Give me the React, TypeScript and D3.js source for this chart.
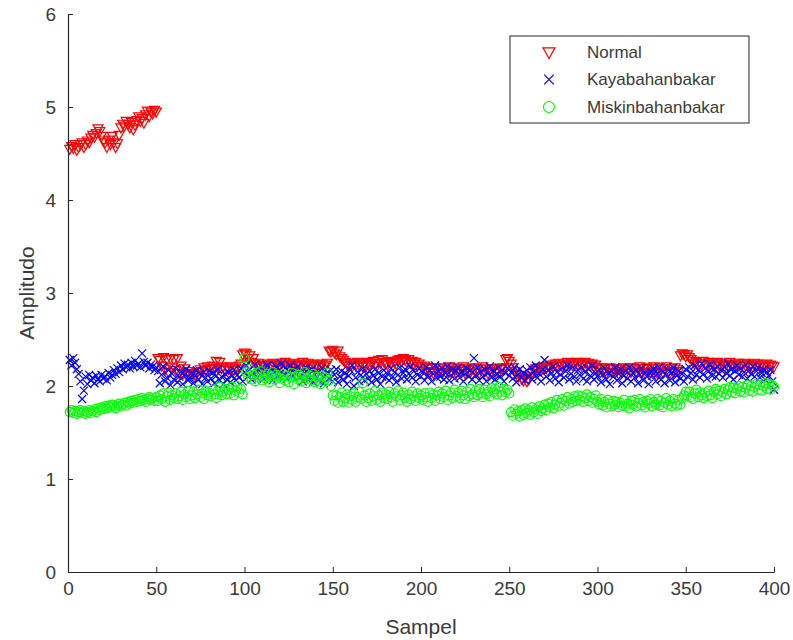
import * as d3 from "d3";
import { useEffect, useRef } from "react";

// Normal (samples 1..400)
const normal = [
  4.55, 4.58, 4.56, 4.6, 4.54, 4.57, 4.6, 4.62, 4.57, 4.6,
  4.64, 4.62, 4.67, 4.7, 4.68, 4.72, 4.77, 4.74, 4.69, 4.64,
  4.62, 4.57, 4.65, 4.6, 4.69, 4.62, 4.57, 4.61, 4.7, 4.78,
  4.82, 4.8, 4.85, 4.82, 4.78, 4.84, 4.76, 4.81, 4.86, 4.9,
  4.85, 4.88, 4.83, 4.92, 4.96, 4.9, 4.95, 4.93, 4.97, 4.95,
  2.3, 2.28, 2.22, 2.31, 2.18, 2.29, 2.15, 2.3, 2.2, 2.29,
  2.17, 2.3, 2.14, 2.22, 2.13, 2.19, 2.12, 2.16, 2.11, 2.14,
  2.13, 2.12, 2.15, 2.12, 2.18, 2.16, 2.2, 2.17, 2.21, 2.18,
  2.19, 2.22, 2.18, 2.27, 2.2, 2.26, 2.19, 2.21, 2.17, 2.2,
  2.18, 2.21, 2.19, 2.17, 2.2, 2.18, 2.22, 2.24, 2.34, 2.36,
  2.35, 2.3, 2.33, 2.26, 2.3, 2.24, 2.22, 2.25, 2.21, 2.23,
  2.22, 2.2, 2.24, 2.21, 2.23, 2.25, 2.22, 2.24, 2.2, 2.23,
  2.25, 2.22, 2.26, 2.23, 2.2, 2.24, 2.22, 2.25, 2.21, 2.23,
  2.24, 2.22, 2.26, 2.23, 2.21, 2.25, 2.23, 2.22, 2.24, 2.21,
  2.23, 2.2, 2.22, 2.24, 2.21, 2.23, 2.25, 2.38, 2.37, 2.39,
  2.36, 2.34, 2.38, 2.32, 2.3, 2.28, 2.26, 2.24, 2.22, 2.25,
  2.21, 2.24, 2.22, 2.26, 2.23, 2.25, 2.21, 2.24, 2.22, 2.26,
  2.23, 2.25, 2.27, 2.24, 2.22, 2.28, 2.25, 2.29, 2.26, 2.24,
  2.23, 2.27, 2.25, 2.22, 2.26, 2.24, 2.28, 2.29, 2.27, 2.3,
  2.28, 2.26, 2.29, 2.25, 2.27, 2.24, 2.26, 2.22, 2.24, 2.21,
  2.19, 2.22, 2.16, 2.2, 2.15, 2.19, 2.14, 2.2, 2.17, 2.15,
  2.19, 2.14, 2.2, 2.15, 2.18, 2.21, 2.15, 2.2, 2.17, 2.14,
  2.19, 2.16, 2.18, 2.21, 2.14, 2.19, 2.17, 2.15, 2.2, 2.18,
  2.15, 2.19, 2.14, 2.18, 2.21, 2.16, 2.19, 2.14, 2.18, 2.16,
  2.19, 2.15, 2.18, 2.14, 2.19, 2.2, 2.18, 2.29, 2.3, 2.27,
  2.24, 2.2, 2.16, 2.13, 2.1, 2.12, 2.08, 2.06, 2.09, 2.05,
  2.07, 2.11, 2.14, 2.17, 2.19, 2.18, 2.2, 2.17, 2.19, 2.21,
  2.19, 2.22, 2.2, 2.23, 2.21, 2.24, 2.22, 2.25, 2.23, 2.21,
  2.24, 2.22, 2.26, 2.23, 2.25, 2.22, 2.24, 2.26, 2.23, 2.25,
  2.22, 2.24, 2.26, 2.23, 2.25, 2.22, 2.24, 2.21, 2.23, 2.2,
  2.18, 2.2, 2.15, 2.19, 2.14, 2.18, 2.2, 2.15, 2.19, 2.14,
  2.18, 2.13, 2.19, 2.16, 2.2, 2.14, 2.18, 2.19, 2.15, 2.2,
  2.18, 2.14, 2.19, 2.21, 2.15, 2.19, 2.14, 2.2, 2.18, 2.15,
  2.19, 2.21, 2.16, 2.14, 2.2, 2.18, 2.15, 2.19, 2.21, 2.16,
  2.14, 2.19, 2.15, 2.2, 2.18, 2.16, 2.33, 2.35, 2.34, 2.32,
  2.34, 2.31, 2.29, 2.27, 2.24, 2.26, 2.22, 2.25, 2.23, 2.27,
  2.24, 2.22, 2.26, 2.23, 2.25, 2.21, 2.24, 2.26, 2.22, 2.25,
  2.23, 2.21, 2.24, 2.22, 2.26, 2.23, 2.2, 2.24, 2.22, 2.25,
  2.21, 2.23, 2.25, 2.22, 2.24, 2.2, 2.23, 2.21, 2.25, 2.22,
  2.24, 2.21, 2.23, 2.2, 2.22, 2.24, 2.21, 2.23, 2.22, 2.21,
];

// Kayabahanbakar
const kaya = [
  2.28, 2.22, 2.3, 2.25, 2.18, 2.13, 2.05, 1.86, 1.95, 2.1,
  2.02, 2.12, 2.06, 2.09, 2.03, 2.11, 2.07, 2.05, 2.12, 2.08,
  2.1, 2.06, 2.14, 2.09, 2.12, 2.17, 2.13, 2.19, 2.15, 2.22,
  2.18, 2.24, 2.2, 2.23, 2.19, 2.25, 2.21, 2.27, 2.22, 2.24,
  2.2, 2.35, 2.26, 2.22, 2.25, 2.19, 2.23, 2.21, 2.17, 2.2,
  2.16, 2.03, 2.12, 2.21, 2.05, 2.09, 2.17, 2.01, 2.13, 2.07,
  2.19, 2.04, 2.1, 2.15, 2.02, 2.12, 2.18, 2.06, 2.09, 2.14,
  2.03, 2.11, 2.17, 2.07, 2.13, 2.02, 2.15, 2.09, 2.05, 2.16,
  2.08, 2.14, 2.03, 2.11, 2.18, 2.06, 2.1, 2.02, 2.13, 2.07,
  2.15, 2.04, 2.11, 2.17, 2.06, 2.12, 2.09, 2.19, 2.05, 2.15,
  2.22, 2.1, 2.18, 2.07, 2.14, 2.23, 2.09, 2.17, 2.12, 2.2,
  2.08, 2.16, 2.22, 2.11, 2.18, 2.06, 2.15, 2.21, 2.1, 2.17,
  2.24, 2.12, 2.19, 2.08, 2.16, 2.22, 2.11, 2.18, 2.13, 2.21,
  2.1, 2.17, 2.05, 2.14, 2.2, 2.07, 2.13, 2.18, 2.04, 2.12,
  2.16, 2.06, 2.13, 2.19, 2.03, 2.11, 2.15, 2.08, 2.17, 2.05,
  2.12, 2.18, 2.04, 2.1, 2.16, 2.07, 2.14, 2.02, 2.11, 2.17,
  2.22, 2.0, 2.09, 2.15, 2.05, 2.12, 2.19, 2.06, 2.13, 2.08,
  2.16, 2.04, 2.11, 2.18, 2.07, 2.14, 2.02, 2.1, 2.17, 2.09,
  2.13, 2.06, 2.19, 2.1, 2.15, 2.04, 2.12, 2.2, 2.08, 2.14,
  2.18, 2.07, 2.13, 2.21, 2.09, 2.16, 2.05, 2.12, 2.19, 2.1,
  2.15, 2.06, 2.2, 2.11, 2.17, 2.05, 2.13, 2.22, 2.09, 2.16,
  2.1, 2.19, 2.07, 2.14, 2.21, 2.06, 2.12, 2.18, 2.08, 2.16,
  2.2, 2.09, 2.15, 2.05, 2.13, 2.19, 2.1, 2.17, 2.07, 2.3,
  2.12, 2.2, 2.06, 2.15, 2.1, 2.18, 2.05, 2.14, 2.21, 2.09,
  2.16, 2.07, 2.13, 2.2, 2.1, 2.17, 2.05, 2.14, 2.19, 2.11,
  2.15, 2.08, 2.2, 2.04, 2.12, 2.18, 2.09, 2.14, 2.06, 2.17,
  2.11, 2.2, 2.07, 2.15, 2.22, 2.09, 2.13, 2.05, 2.18, 2.28,
  2.1, 2.17, 2.06, 2.14, 2.21, 2.08, 2.15, 2.04, 2.12, 2.19,
  2.09, 2.16, 2.22, 2.07, 2.13, 2.2, 2.1, 2.05, 2.17, 2.12,
  2.2, 2.08, 2.15, 2.05, 2.18, 2.11, 2.22, 2.07, 2.14, 2.1,
  2.17, 2.04, 2.12, 2.19, 2.07, 2.14, 2.02, 2.16, 2.1, 2.2,
  2.06, 2.13, 2.18, 2.03, 2.11, 2.16, 2.08, 2.2, 2.05, 2.14,
  2.09, 2.17, 2.03, 2.12, 2.19, 2.06, 2.14, 2.1, 2.02, 2.16,
  2.11, 2.18, 2.05, 2.13, 2.2, 2.07, 2.15, 2.03, 2.12, 2.17,
  2.06, 2.14, 2.2, 2.04, 2.11, 2.16, 2.08, 2.13, 2.05, 2.18,
  2.1, 2.2, 2.14, 2.07, 2.22, 2.12, 2.17, 2.09, 2.24, 2.13,
  2.19, 2.08, 2.16, 2.23, 2.11, 2.18, 2.1, 2.21, 2.13, 2.17,
  2.09, 2.2, 2.14, 2.24, 2.11, 2.18, 2.07, 2.16, 2.22, 2.12,
  2.19, 2.1, 2.15, 2.23, 2.08, 2.17, 2.13, 2.21, 2.1, 2.16,
  2.2, 2.09, 2.14, 2.18, 2.07, 2.15, 2.11, 2.17, 2.05, 1.96,
];

// Miskinbahanbakar
const miskin = [
  1.72, 1.74, 1.71, 1.73, 1.7, 1.72, 1.74, 1.71, 1.73, 1.7,
  1.72, 1.74, 1.71, 1.73, 1.75, 1.72, 1.76, 1.74, 1.77, 1.75,
  1.78, 1.76, 1.79, 1.77, 1.8, 1.78, 1.76, 1.79, 1.81, 1.78,
  1.8, 1.82, 1.79, 1.83, 1.81, 1.84, 1.82, 1.85, 1.83, 1.86,
  1.84, 1.87, 1.85, 1.83, 1.86, 1.88, 1.85, 1.87, 1.84, 1.88,
  1.84, 1.9, 1.86, 1.92, 1.83, 1.89, 1.93, 1.85, 1.9, 1.87,
  1.92, 1.86, 1.89, 1.94, 1.85, 1.91, 1.88, 1.95, 1.86, 1.9,
  1.94, 1.87, 1.91, 1.96, 1.88, 1.92, 1.86, 1.95, 1.9, 1.93,
  1.89, 1.96, 1.91, 1.87, 1.95, 1.99, 1.9, 1.94, 1.97, 1.91,
  1.96, 1.92, 1.99, 1.9, 1.95, 2.0, 1.93, 1.97, 1.91, 2.3,
  2.15, 2.1, 2.18, 2.07, 2.12, 2.05, 2.14, 2.09, 2.16, 2.06,
  2.11, 2.08, 2.13, 2.04, 2.1, 2.15, 2.07, 2.12, 2.09, 2.03,
  2.08, 2.13, 2.06, 2.11, 2.04, 2.09, 2.14, 2.02, 2.1, 2.07,
  2.12, 2.05, 2.09, 2.15, 2.03, 2.08, 2.11, 2.06, 2.13, 2.04,
  2.1, 2.07, 2.02, 2.11, 2.05, 2.09, 2.14, 2.06, 2.0, 1.9,
  1.84, 1.9, 1.82, 1.88, 1.93, 1.83, 1.87, 1.91, 1.82, 1.89,
  1.85, 1.92, 1.83, 1.88, 1.94, 1.86, 2.03, 1.9, 1.83, 1.87,
  1.92, 1.84, 1.89, 1.95, 1.85, 1.9, 1.83, 1.93, 1.87, 1.91,
  1.86, 1.94, 1.88, 1.83, 1.92, 1.89, 1.95, 1.85, 1.9, 1.93,
  1.87, 1.83, 1.91, 1.86, 1.94, 1.89, 1.84, 1.92, 1.87, 1.9,
  1.85, 1.92, 1.88, 1.83, 1.93, 1.87, 1.91, 1.84, 1.9, 1.94,
  1.86, 1.92, 1.88, 1.95, 1.85, 1.9, 1.93, 1.87, 1.96, 1.89,
  1.93, 1.87, 1.95, 1.9, 1.86, 1.94, 1.89, 1.97, 1.91, 1.88,
  1.95, 1.9, 1.97, 1.92, 1.88, 1.96, 1.91, 1.94, 1.89, 1.98,
  1.93, 1.97, 1.91, 1.99, 1.94, 1.9, 1.97, 1.93, 1.96, 1.92,
  1.72, 1.68, 1.75, 1.7, 1.73, 1.67, 1.74, 1.69, 1.76, 1.71,
  1.74, 1.69, 1.77, 1.72, 1.75, 1.7, 1.78, 1.73, 1.76, 1.8,
  1.74, 1.81, 1.77, 1.83, 1.76, 1.8, 1.85, 1.78, 1.82, 1.86,
  1.79, 1.84, 1.88, 1.81, 1.86, 1.83, 1.89, 1.84, 1.9, 1.85,
  1.89, 1.83, 1.87, 1.91, 1.84, 1.88, 1.82, 1.86, 1.9, 1.83,
  1.8, 1.86, 1.79, 1.83, 1.77, 1.85, 1.81, 1.78, 1.84, 1.8,
  1.83, 1.77, 1.82, 1.79, 1.85, 1.78, 1.81, 1.76, 1.84, 1.8,
  1.85, 1.78, 1.82, 1.86, 1.79, 1.83, 1.77, 1.84, 1.81, 1.86,
  1.78, 1.83, 1.8, 1.86, 1.79, 1.84, 1.77, 1.82, 1.87, 1.8,
  1.84, 1.78, 1.86, 1.81, 1.79, 1.85, 1.8, 1.87, 1.9, 1.94,
  1.89, 1.94, 1.88, 1.86, 1.92, 1.96, 1.88, 1.93, 1.9, 1.87,
  1.93, 1.89, 1.95, 1.9, 1.87, 1.94, 1.97, 1.91, 1.95, 1.89,
  1.93, 1.97, 1.91, 1.96, 1.99, 1.93, 1.98, 1.92, 1.97, 2.0,
  1.94, 1.99, 1.93, 1.98, 2.01, 1.95, 2.0, 1.94, 1.99, 2.02,
  1.96, 2.01, 1.95, 2.0, 2.03, 1.97, 2.02, 1.96, 2.01, 1.99,
];

const seriesNames = ["Normal", "Kayabahanbakar", "Miskinbahanbakar"];
const seriesColors = ["#ff0000", "#0000ff", "#00ff00"];
const xTicks = [0, 50, 100, 150, 200, 250, 300, 350, 400];
const yTicks = [0, 1, 2, 3, 4, 5, 6];

const font = "'Liberation Sans', Arial, Helvetica, sans-serif";
const axisColor = "#262626";

// marker shapes, centred on 0,0
const triPath = "M-5,-3.5L5,-3.5L0,5.5Z";
const crossPath = "M-4,-4L4,4M-4,4L4,-4";

const App = () => {
  const ref = useRef(null);
  const outputWidth = 793;
  const outputHeight = 640;

  useEffect(() => {
    const margin = { top: 14, right: 19, bottom: 68, left: 68 },
      width = outputWidth - margin.left - margin.right,
      height = outputHeight - margin.top - margin.bottom;

    const root = d3.select(ref.current);
    root.selectAll("*").remove();

    const svg = root
      .append("g")
      .attr("transform", `translate(${margin.left},${margin.top})`);

    const x = d3.scaleLinear().domain([0, 400]).range([0, width]);
    const y = d3.scaleLinear().domain([0, 6]).range([height, 0]);

    // points: sample index starts at 1
    const all = [normal, kaya, miskin];

    all.forEach((vals, si) => {
      const g = svg.append("g");
      const sel = g
        .selectAll("path,circle")
        .data(vals)
        .enter();
      if (si === 2) {
        sel
          .append("circle")
          .attr("cx", (d, i) => x(i + 1))
          .attr("cy", (d) => y(d))
          .attr("r", 4.5)
          .attr("fill", "none")
          .attr("stroke", seriesColors[si])
          .attr("stroke-width", 1.2);
      } else {
        sel
          .append("path")
          .attr("d", si === 0 ? triPath : crossPath)
          .attr("transform", (d, i) => `translate(${x(i + 1)},${y(d)})`)
          .attr("fill", "none")
          .attr("stroke", seriesColors[si])
          .attr("stroke-width", 1.2);
      }
    });

    // axes (MATLAB style: ticks inward, no box)
    const xAxis = svg
      .append("g")
      .attr("transform", `translate(0,${height})`)
      .call(
        d3.axisBottom(x).tickValues(xTicks).tickFormat(d3.format("d"))
          .tickSizeInner(-5).tickSizeOuter(0).tickPadding(10)
      );
    const yAxis = svg
      .append("g")
      .call(
        d3.axisLeft(y).tickValues(yTicks).tickFormat(d3.format("d"))
          .tickSizeInner(-5).tickSizeOuter(0).tickPadding(12)
      );

    [xAxis, yAxis].forEach((a) => {
      a.select(".domain").attr("stroke", axisColor).attr("stroke-width", 1.2);
      a.selectAll(".tick line").attr("stroke", axisColor);
      a.selectAll(".tick text")
        .attr("fill", "#3a3a3a")
        .attr("font-family", font)
        .attr("font-size", 19);
    });

    svg
      .append("text")
      .attr("x", width / 2)
      .attr("y", height + 62)
      .attr("text-anchor", "middle")
      .attr("font-family", font)
      .attr("font-size", 21)
      .attr("fill", "#3a3a3a")
      .text("Sampel");

    svg
      .append("text")
      .attr("transform", `translate(${-34},${height / 2}) rotate(-90)`)
      .attr("text-anchor", "middle")
      .attr("font-family", font)
      .attr("font-size", 21)
      .attr("fill", "#3a3a3a")
      .text("Amplitudo");

    // legend
    const lg = root.append("g").attr("transform", "translate(510,36)");
    lg.append("rect")
      .attr("width", 239)
      .attr("height", 87)
      .attr("fill", "#fff")
      .attr("stroke", axisColor)
      .attr("stroke-width", 1);

    seriesNames.forEach((name, i) => {
      const cy = 16 + i * 27.5;
      if (i === 2) {
        lg.append("circle")
          .attr("cx", 39)
          .attr("cy", cy)
          .attr("r", 5.5)
          .attr("fill", "none")
          .attr("stroke", seriesColors[i])
          .attr("stroke-width", 1.2);
      } else {
        lg.append("path")
          .attr("d", i === 0 ? triPath : crossPath)
          .attr("transform", `translate(39,${cy}) scale(1.2)`)
          .attr("fill", "none")
          .attr("stroke", seriesColors[i])
          .attr("stroke-width", 1);
      }
      lg.append("text")
        .attr("x", 77)
        .attr("y", cy)
        .attr("dy", "0.35em")
        .attr("font-family", font)
        .attr("font-size", 17)
        .attr("fill", "#3a3a3a")
        .text(name);
    });

    // eslint-disable-next-line react-hooks/exhaustive-deps
  }, []);

  return (
    <svg
      width={outputWidth}
      height={outputHeight}
      ref={ref}
      style={{ position: "absolute", left: 0, top: 0, background: "#fff" }}
    />
  );
};

export default App;
